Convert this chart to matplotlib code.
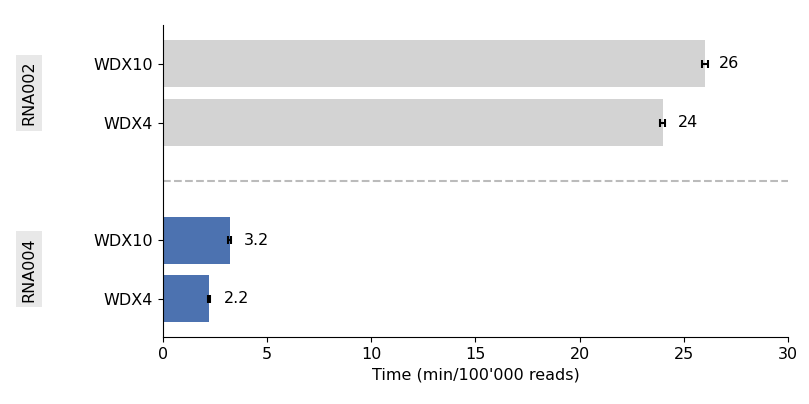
import matplotlib
matplotlib.use("Agg")
import matplotlib.pyplot as plt

labels = ["WDX10", "WDX4", "WDX10", "WDX4"]
values = [26, 24, 3.2, 2.2]
errors = [0.15, 0.12, 0.06, 0.06]
text_vals = ["26", "24", "3.2", "2.2"]
groups = ["RNA002", "RNA004"]
colors = ["#d3d3d3", "#d3d3d3", "#4c72b0", "#4c72b0"]
ypos = [0, 1, 3, 4]

fig = plt.figure(figsize=(8.09, 4.04), dpi=100)
ax = fig.add_axes([0.2015, 0.166, 0.7725, 0.772])
ax.barh(ypos, values, height=0.8, color=colors)
ax.errorbar(values, ypos, xerr=errors, fmt="none", ecolor="black", elinewidth=1.5, capsize=3, capthick=1.5)
for y, v, t in zip(ypos, values, text_vals):
    ax.text(v + 0.7, y, t, va="center", ha="left", fontsize=11.5)
ax.axhline(2, color="#bbbbbb", linestyle="--", linewidth=1.5)
ax.set_yticks(ypos)
ax.set_yticklabels(labels, fontsize=11.5)
ax.set_ylim(4.65, -0.66)
ax.set_xlim(0, 30)
ax.set_xticks([0, 5, 10, 15, 20, 25, 30])
ax.tick_params(axis="x", labelsize=11.5)
ax.set_xlabel("Time (min/100'000 reads)", fontsize=11.5)
ax.spines["top"].set_visible(False)
ax.spines["right"].set_visible(False)
for g, yc in zip(groups, [0.5, 3.5]):
    ax.text(-0.215, yc, g, transform=ax.get_yaxis_transform(), rotation=90,
            va="center", ha="center", fontsize=11.5,
            bbox=dict(facecolor="#e8e8e8", edgecolor="none", pad=4))
fig.savefig("out.png", dpi=100)
